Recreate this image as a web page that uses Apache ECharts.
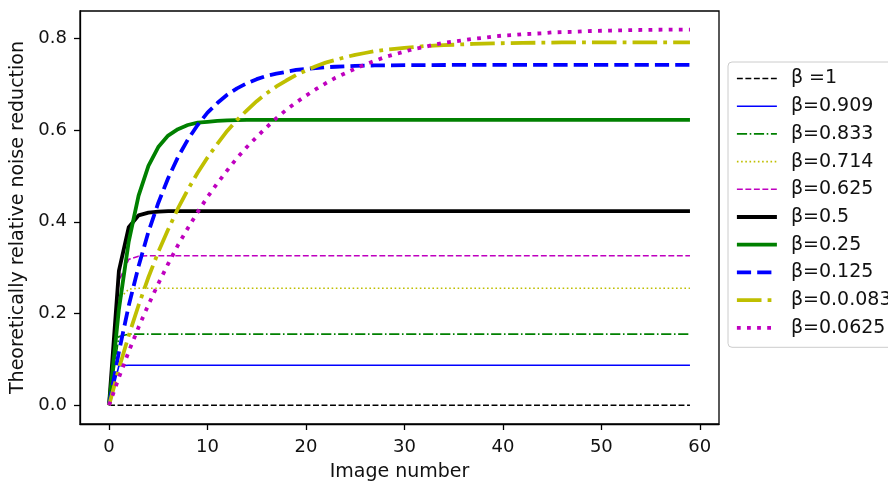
<!DOCTYPE html>
<html>
<head>
<meta charset="utf-8">
<script src="https://cdn.jsdelivr.net/npm/echarts@6/dist/echarts.min.js"></script>
<style>
  html, body { margin: 0; padding: 0; background: #fff; }
  #chart { width: 888px; height: 481px; }
</style>
</head>
<body>
<div id="chart"></div>
<script>
// [image number, noise reduction]
let beta1 = [[0, 0], [59, 0]]
let beta0909 = [[0, 0], [1, 0.086], [2, 0.087], [59, 0.087]]
let beta0833 = [[0, 0], [1, 0.150], [2, 0.155], [59, 0.155]]
let beta0714 = [[0, 0], [1, 0.231], [2, 0.253], [3, 0.255], [59, 0.255]]
let beta0625 = [[0, 0], [1, 0.271], [2, 0.318], [3, 0.325], [4, 0.326], [59, 0.326]]
let beta05 = [[0, 0], [1, 0.293], [2, 0.388], [3, 0.414], [4, 0.420], [5, 0.422], [6, 0.423], [59, 0.423]]
let beta025 = [[0, 0], [1, 0.209], [2, 0.357], [3, 0.457], [4, 0.522], [5, 0.563], [6, 0.588],
    [7, 0.602], [8, 0.611], [9, 0.616], [10, 0.618], [11, 0.620], [12, 0.621], [14, 0.622], [59, 0.622]]
let beta0125 = [[0, 0], [1, 0.116], [2, 0.217], [3, 0.303], [4, 0.378], [5, 0.441], [6, 0.495],
    [7, 0.541], [8, 0.579], [9, 0.611], [10, 0.638], [11, 0.659], [12, 0.677], [13, 0.691],
    [14, 0.702], [15, 0.711], [16, 0.718], [17, 0.723], [18, 0.727], [19, 0.731], [20, 0.733],
    [21, 0.735], [22, 0.737], [23, 0.738], [24, 0.739], [25, 0.740], [27, 0.741], [35, 0.742], [59, 0.742]]
let beta0083 = [[0, 0], [1, 0.080], [2, 0.152], [3, 0.218], [4, 0.279], [5, 0.334], [6, 0.383],
    [7, 0.429], [8, 0.470], [9, 0.507], [10, 0.540], [11, 0.570], [12, 0.598], [13, 0.622],
    [14, 0.643], [15, 0.663], [16, 0.680], [17, 0.695], [18, 0.708], [19, 0.720], [20, 0.730],
    [21, 0.739], [22, 0.747], [23, 0.753], [24, 0.759], [25, 0.764], [26, 0.768], [27, 0.772],
    [28, 0.775], [29, 0.777], [30, 0.779], [31, 0.781], [32, 0.783], [33, 0.784], [34, 0.785],
    [35, 0.786], [36, 0.787], [37, 0.788], [39, 0.789], [42, 0.790], [46, 0.791], [59, 0.791]]
let beta00625 = [[0, 0], [1, 0.060], [2, 0.117], [3, 0.170], [4, 0.219], [5, 0.265], [6, 0.308],
    [7, 0.349], [8, 0.386], [9, 0.421], [10, 0.454], [11, 0.484], [12, 0.512], [13, 0.539],
    [14, 0.563], [15, 0.585], [16, 0.606], [17, 0.626], [18, 0.644], [19, 0.660], [20, 0.675],
    [21, 0.689], [22, 0.702], [23, 0.714], [24, 0.724], [25, 0.734], [26, 0.743], [27, 0.751],
    [28, 0.759], [29, 0.765], [30, 0.771], [31, 0.777], [32, 0.781], [33, 0.786], [34, 0.790],
    [35, 0.793], [36, 0.796], [37, 0.799], [38, 0.801], [39, 0.804], [40, 0.806], [41, 0.807],
    [42, 0.809], [43, 0.810], [44, 0.811], [45, 0.813], [47, 0.814], [48, 0.815], [49, 0.816],
    [51, 0.817], [53, 0.818], [57, 0.819], [59, 0.819]]

let seriesNames = ['β =1', 'β=0.909', 'β=0.833', 'β=0.714', 'β=0.625',
    'β=0.5', 'β=0.25', 'β=0.125', 'β=0.0.083', 'β=0.0625']
let seriesData = [beta1, beta0909, beta0833, beta0714, beta0625,
    beta05, beta025, beta0125, beta0083, beta00625]

let xTicks = [0, 10, 20, 30, 40, 50, 60]
let yTicks = [0, 0.2, 0.4, 0.6, 0.8]

const THIN = 1.6
const THICK = 3.8
let styles = [
    { color: '#000000', width: THIN, type: [5.9, 2.6] },
    { color: '#0000ff', width: THIN, type: 'solid' },
    { color: '#008000', width: THIN, type: [10.2, 2.6, 1.6, 2.6] },
    { color: '#bfbf00', width: THIN, type: [1.6, 2.6] },
    { color: '#bf00bf', width: THIN, type: [5.9, 2.6] },
    { color: '#000000', width: THICK, type: 'solid' },
    { color: '#008000', width: THICK, type: 'solid' },
    { color: '#0000ff', width: THICK, type: [14.2, 6.1] },
    { color: '#bfbf00', width: THICK, type: [24.6, 6.1, 3.8, 6.1] },
    { color: '#bf00bf', width: THICK, type: [3.8, 6.3] }
]

const FONT = 'DejaVu Sans'

let chart = echarts.init(document.getElementById('chart'), null, { renderer: 'canvas' })

let chartOpt = {
    animation: false,
    textStyle: { fontFamily: FONT },
    grid: {
        left: 80,
        top: 11,
        right: 169,
        bottom: 57,
        outerBoundsMode: 'none',
        containLabel: false,
        show: true,
        borderColor: '#000',
        borderWidth: 1.3
    },
    xAxis: {
        type: 'value',
        min: -2.95,
        max: 61.95,
        name: 'Image number',
        nameLocation: 'middle',
        nameGap: 39,
        nameTextStyle: { fontFamily: FONT, fontSize: 19, color: '#111' },
        axisLine: { show: true, onZero: false, lineStyle: { color: '#000', width: 1.3 } },
        axisTick: { show: true, length: 6, customValues: xTicks, lineStyle: { color: '#000', width: 1.3 } },
        axisLabel: { customValues: xTicks, margin: 14, fontFamily: FONT, fontSize: 18, color: '#111' },
        splitLine: { show: false }
    },
    yAxis: {
        type: 'value',
        min: -0.041,
        max: 0.8596,
        name: 'Theoretically relative noise reduction',
        nameLocation: 'middle',
        nameGap: 47,
        nameTextStyle: { fontFamily: FONT, fontSize: 19, color: '#111' },
        axisLine: { show: true, onZero: false, lineStyle: { color: '#000', width: 1.3 } },
        axisTick: { show: true, length: 6, customValues: yTicks, lineStyle: { color: '#000', width: 1.3 } },
        axisLabel: {
            customValues: yTicks,
            margin: 13,
            fontFamily: FONT,
            fontSize: 18,
            color: '#111',
            formatter: v => v.toFixed(1)
        },
        splitLine: { show: false }
    },
    legend: {
        orient: 'vertical',
        left: 728,
        top: 62,
        padding: [7, 12, 10, 7],
        itemWidth: 40,
        itemHeight: 14,
        itemGap: 8.7,
        borderColor: '#cccccc',
        borderWidth: 1,
        borderRadius: 4,
        backgroundColor: '#fff',
        itemStyle: { opacity: 0 },
        lineStyle: { width: 'inherit', type: 'inherit', cap: 'butt' },
        textStyle: { fontFamily: FONT, fontSize: 19, color: '#111', lineHeight: 19, padding: [0, 0, 0, 9] },
        data: seriesNames
    },
    series: seriesNames.map((name, i) => ({
        name: name,
        type: 'line',
        data: seriesData[i],
        symbol: 'none',
        smooth: false,
        lineStyle: {
            color: styles[i].color,
            width: styles[i].width,
            type: styles[i].type,
            cap: 'butt',
            join: 'round'
        },
        itemStyle: { color: styles[i].color },
        emphasis: { disabled: true }
    }))
}

chart.setOption(chartOpt)
</script>
</body>
</html>
